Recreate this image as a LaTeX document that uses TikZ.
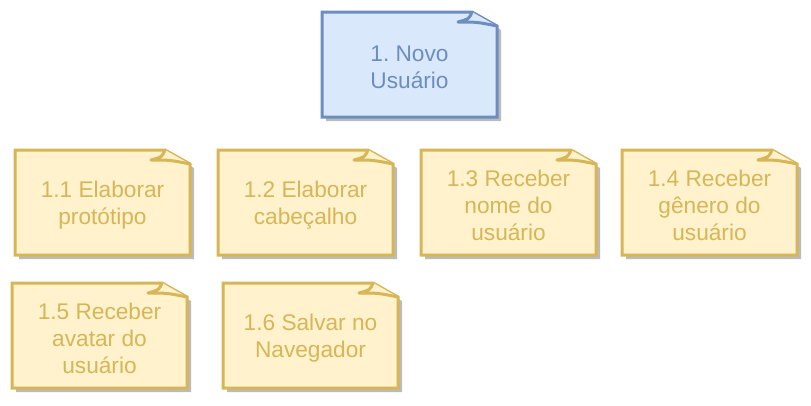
\documentclass[tikz,border=0pt]{standalone}
\usepackage{fontspec}
\setmainfont{Liberation Sans}
\usetikzlibrary{calc,backgrounds}
\definecolor{bfill}{HTML}{DAE8FC}
\definecolor{bdraw}{HTML}{6C8EBF}
\definecolor{yfill}{HTML}{FFF2CC}
\definecolor{ydraw}{HTML}{D6B656}
\definecolor{shad}{HTML}{BBBBBB}
\tikzset{
  notetext/.style={minimum width=131.25pt, minimum height=78.75pt, align=center, inner sep=0pt,
    font=\fontsize{17}{20.1}\selectfont\frenchspacing},
  bluetext/.style={notetext, text=bdraw},
  yellowtext/.style={notetext, text=ydraw},
  noteline/.style={line width=2.25pt}
}
% shape is drawn relative to the node centre; text sits 3px below the box centre
\newcommand\drawnote[3]{%
  \begin{pgfonlayer}{background}
  \fill[shad] ($(#1.center)+(-83.5,-51.5)$) -- ($(#1.center)+(66.5,-51.5)$) -- ($(#1.center)+(91.5,-37.5)$)
     -- ($(#1.center)+(91.5,53.5)$) -- ($(#1.center)+(-83.5,53.5)$) -- cycle;
  \filldraw[fill=#2,draw=#3,noteline] ($(#1.center)+(-87.5,-55.5)$) -- ($(#1.center)+(62.5,-55.5)$)
     -- ($(#1.center)+(87.5,-41.5)$) -- ($(#1.center)+(87.5,49.5)$) -- ($(#1.center)+(-87.5,49.5)$) -- cycle;
  \filldraw[fill=#2,draw=#3,noteline,line join=round] ($(#1.center)+(62.5,-55.5)$)
     .. controls ($(#1.center)+(59.5,-48.5)$) .. ($(#1.center)+(48.5,-45.5)$)
     .. controls ($(#1.center)+(67.5,-45.5)$) .. ($(#1.center)+(87.5,-41.5)$);
  \end{pgfonlayer}}
\begin{document}
\begin{tikzpicture}[x=0.75pt,y=-0.75pt]
\useasboundingbox (0,0) rectangle (811,405);
\node[bluetext] (top) at (409.5,67.5) {1. Novo\\Usuário};
\node[yellowtext] (n11) at (102.5,205.5) {1.1 Elaborar\\protótipo};
\node[yellowtext] (n12) at (305.5,205.5) {1.2 Elaborar\\cabeçalho};
\node[yellowtext] (n13) at (508.5,205.5) {1.3 Receber\\nome do\\usuário};
\node[yellowtext] (n14) at (709.5,205.5) {1.4 Receber\\gênero do\\usuário};
\node[yellowtext] (n15) at (99.5,338.5) {1.5 Receber\\avatar do\\usuário};
\node[yellowtext] (n16) at (310.5,338.5) {1.6 Salvar no\\Navegador};
\drawnote{top}{bfill}{bdraw}
\drawnote{n11}{yfill}{ydraw}
\drawnote{n12}{yfill}{ydraw}
\drawnote{n13}{yfill}{ydraw}
\drawnote{n14}{yfill}{ydraw}
\drawnote{n15}{yfill}{ydraw}
\drawnote{n16}{yfill}{ydraw}
\end{tikzpicture}
\end{document}
